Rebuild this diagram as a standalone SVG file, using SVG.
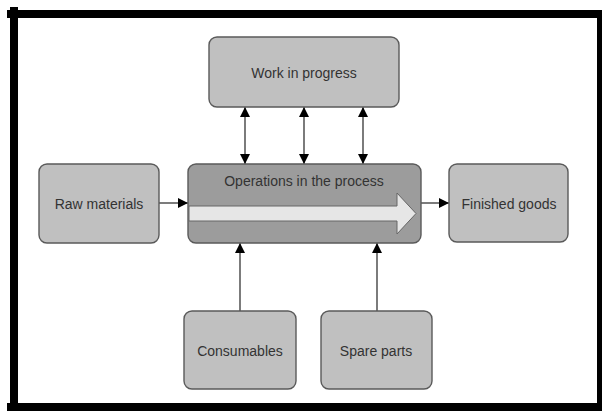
<svg xmlns="http://www.w3.org/2000/svg" width="602" height="411" viewBox="0 0 602 411">
  <style>
    .box { fill: #c0c0c0; stroke: #5a5a5a; stroke-width: 1.4; }
    .ops { fill: #9c9c9c; stroke: #5a5a5a; stroke-width: 1.4; }
    .lbl { font-family: "Liberation Sans", Arial, sans-serif; font-size: 14px; fill: #333; text-anchor: middle; }
    .wire { stroke: #444; stroke-width: 1.4; fill: none; }
    .frame { stroke: #000; stroke-width: 8; fill: none; }
  </style>
  <defs>
    <marker id="head" viewBox="0 0 10 10" refX="10" refY="5" markerWidth="10" markerHeight="10" markerUnits="userSpaceOnUse" orient="auto-start-reverse">
      <path d="M0,0 L10,5 L0,10 Z" fill="#000"/>
    </marker>
  </defs>

  <rect width="602" height="411" fill="#fff"/>

  <!-- outer frame -->
  <g id="frame">
    <line class="frame" x1="7" y1="14" x2="602" y2="14"/>
    <line class="frame" x1="14" y1="7" x2="14" y2="411"/>
    <line class="frame" x1="7" y1="407" x2="602" y2="407"/>
    <line class="frame" x1="601" y1="10" x2="601" y2="411"/>
  </g>

  <!-- connectors -->
  <g id="connectors">
    <line class="wire" x1="159" y1="203" x2="188" y2="203" marker-end="url(#head)"/>
    <line class="wire" x1="421" y1="203" x2="449" y2="203" marker-end="url(#head)"/>
    <line class="wire" x1="245" y1="107" x2="245" y2="164" marker-start="url(#head)" marker-end="url(#head)"/>
    <line class="wire" x1="304" y1="107" x2="304" y2="164" marker-start="url(#head)" marker-end="url(#head)"/>
    <line class="wire" x1="363" y1="107" x2="363" y2="164" marker-start="url(#head)" marker-end="url(#head)"/>
    <line class="wire" x1="240" y1="311" x2="240" y2="243" marker-end="url(#head)"/>
    <line class="wire" x1="377" y1="311" x2="377" y2="243" marker-end="url(#head)"/>
  </g>

  <g id="work-in-progress">
    <rect class="box" x="209" y="37" width="190" height="70" rx="8"/>
    <text class="lbl" x="304" y="78">Work in progress</text>
  </g>

  <g id="operations">
    <rect class="ops" x="188" y="164" width="233" height="79" rx="8"/>
    <text class="lbl" x="304" y="186">Operations in the process</text>
    <path d="M189,206 L397,206 L397,193 L416,213.5 L397,234 L397,221 L189,221 Z" fill="#e6e6e6" stroke="#666" stroke-width="1"/>
  </g>

  <g id="raw-materials">
    <rect class="box" x="39" y="164" width="120" height="79" rx="8"/>
    <text class="lbl" x="99" y="209">Raw materials</text>
  </g>

  <g id="finished-goods">
    <rect class="box" x="449" y="164" width="119" height="78" rx="8"/>
    <text class="lbl" x="509" y="209">Finished goods</text>
  </g>

  <g id="consumables">
    <rect class="box" x="184" y="311" width="112" height="78" rx="8"/>
    <text class="lbl" x="240" y="356">Consumables</text>
  </g>

  <g id="spare-parts">
    <rect class="box" x="321" y="311" width="111" height="78" rx="8"/>
    <text class="lbl" x="376" y="356">Spare parts</text>
  </g>
</svg>
